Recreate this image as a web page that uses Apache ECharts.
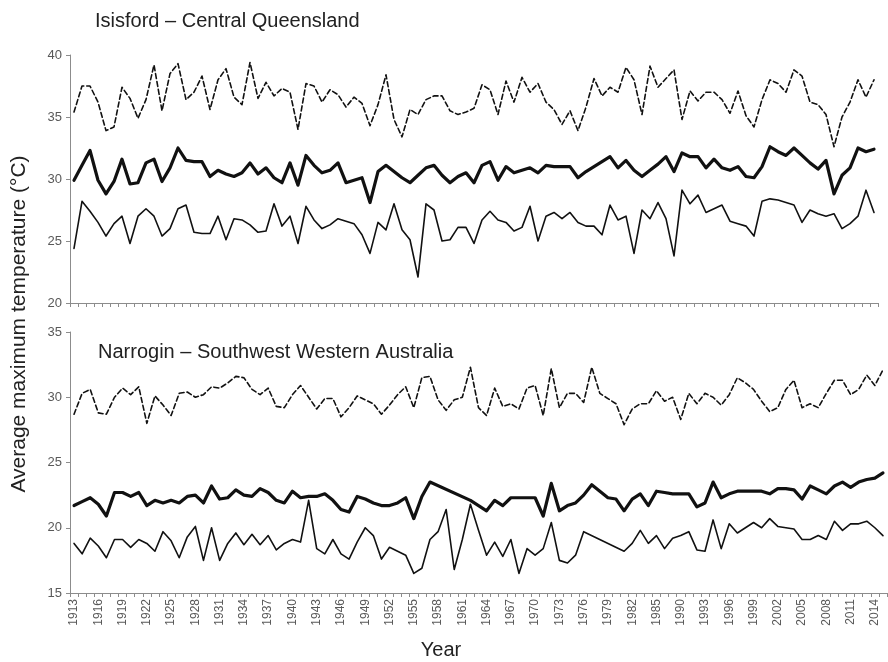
<!DOCTYPE html>
<html>
<head>
<meta charset="utf-8">
<script src="https://cdn.jsdelivr.net/npm/echarts@6/dist/echarts.min.js"></script>
<style>
  html, body { margin: 0; padding: 0; background: #fff; }
  #chart { width: 888px; height: 662px; }
</style>
</head>
<body>
<div id="chart"></div>
<script>
// Year categories (two years between 1985 and 1990 carry no record label)
const years = [
  '1913','1914','1915','1916','1917','1918','1919','1920','1921','1922',
  '1923','1924','1925','1926','1927','1928','1929','1930','1931','1932',
  '1933','1934','1935','1936','1937','1938','1939','1940','1941','1942',
  '1943','1944','1945','1946','1947','1948','1949','1950','1951','1952',
  '1953','1954','1955','1956','1957','1958','1959','1960','1961','1962',
  '1963','1964','1965','1966','1967','1968','1969','1970','1971','1972',
  '1973','1974','1975','1976','1977','1978','1979','1980','1981','1982',
  '1983','1984','1985','1986','1987','1990','1991','1992','1993','1994',
  '1995','1996','1997','1998','1999','2000','2001','2002','2003','2004',
  '2005','2006','2007','2008','2009','2010','2011','2012','2013','2014',
  '2015'
];

// Isisford – Central Queensland (°C)
const isisfordSummer = [
  35.4,37.5,37.5,36.2,33.9,34.2,37.4,36.5,34.9,36.4,
  39.2,35.5,38.5,39.3,36.4,37.0,38.3,35.6,38.0,38.9,
  36.6,36.0,39.4,36.5,37.8,36.7,37.3,37.0,34.0,37.7,
  37.5,36.2,37.2,36.8,35.8,36.6,36.1,34.3,36.0,38.4,
  34.8,33.4,35.6,35.2,36.4,36.7,36.7,35.5,35.2,35.4,
  35.7,37.6,37.2,35.2,37.9,36.2,38.2,37.0,37.7,36.2,
  35.6,34.4,35.5,33.9,35.8,38.1,36.7,37.4,37.0,39.0,
  38.0,35.2,39.1,37.4,38.1,38.8,34.8,37.1,36.3,37.0,
  37.0,36.4,35.3,37.1,35.1,34.2,36.4,38.0,37.7,37.0,
  38.8,38.3,36.2,36.0,35.2,32.6,35.0,36.2,38.0,36.6,
  38.0
];
const isisfordAnnual = [
  29.9,31.1,32.3,29.9,28.8,29.8,31.6,29.6,29.7,31.3,
  31.6,29.8,30.9,32.5,31.5,31.4,31.4,30.2,30.7,30.4,
  30.2,30.5,31.3,30.4,30.9,30.1,29.7,31.3,29.5,31.9,
  31.1,30.5,30.7,31.3,29.7,29.9,30.1,28.1,30.6,31.1,
  30.6,30.1,29.7,30.3,30.9,31.1,30.3,29.7,30.2,30.5,
  29.7,31.1,31.4,29.9,31.0,30.5,30.7,30.9,30.5,31.1,
  31.0,31.0,31.0,30.1,30.6,31.0,31.4,31.8,30.9,31.5,
  30.7,30.2,30.7,31.2,31.8,30.6,32.1,31.8,31.8,30.9,
  31.6,30.9,30.7,31.0,30.2,30.1,31.0,32.6,32.2,31.9,
  32.5,31.9,31.3,30.8,31.5,28.8,30.3,30.9,32.5,32.2,
  32.4
];
const isisfordWinter = [
  24.4,28.2,27.4,26.5,25.4,26.4,27.0,24.8,27.0,27.6,
  27.0,25.4,26.0,27.6,27.9,25.7,25.6,25.6,27.0,25.1,
  26.8,26.7,26.3,25.7,25.8,28.0,26.2,27.0,24.8,27.8,
  26.7,26.0,26.3,26.8,26.6,26.4,25.5,24.0,26.5,25.9,
  28.0,25.9,25.1,22.1,28.0,27.5,25.0,25.1,26.1,26.1,
  24.8,26.7,27.4,26.7,26.5,25.8,26.1,27.8,25.0,27.0,
  27.3,26.8,27.3,26.5,26.2,26.2,25.5,27.9,26.7,27.0,
  24.0,27.5,26.8,28.1,26.8,23.8,29.1,28.0,28.7,27.3,
  27.6,27.9,26.6,26.4,26.2,25.4,28.2,28.4,28.3,28.1,
  27.9,26.5,27.5,27.2,27.0,27.2,26.0,26.4,27.0,29.1,
  27.3
];

// Narrogin – Southwest Western Australia (°C); null = no record
const narroginSummer = [
  28.7,30.3,30.6,28.8,28.7,30.0,30.7,30.2,30.8,28.0,
  30.1,29.4,28.6,30.3,30.4,30.0,30.2,30.8,30.7,31.1,
  31.6,31.5,30.6,30.2,30.7,29.3,29.2,30.2,30.9,30.0,
  29.1,29.9,29.9,28.5,29.2,30.1,29.8,29.5,28.7,29.4,
  30.2,30.8,29.2,31.5,31.6,29.8,29.0,29.8,30.0,32.3,
  29.2,28.6,30.7,29.3,29.5,29.1,30.7,30.9,28.6,32.2,
  29.2,30.3,30.3,29.6,32.3,30.3,29.9,29.5,27.9,29.1,
  29.5,29.5,30.5,29.7,30.0,28.3,30.3,29.5,30.3,30.0,
  29.4,30.2,31.5,31.1,30.6,29.7,28.9,29.2,30.6,31.3,
  29.2,29.5,29.2,30.3,31.3,31.3,30.2,30.6,31.7,30.9,
  32.1
];
const narroginAnnual = [
  21.7,22.0,22.3,21.8,20.9,22.7,22.7,22.4,22.7,21.7,
  22.1,21.9,22.1,21.9,22.4,22.5,21.9,23.2,22.2,22.3,
  22.9,22.5,22.4,23.0,22.7,22.1,21.9,22.8,22.3,22.4,
  22.4,22.6,22.1,21.4,21.2,22.4,22.2,21.9,21.7,21.7,
  21.9,22.3,20.7,22.4,23.5,null,null,null,null,22.1,
  21.7,21.3,22.1,21.7,22.3,22.3,22.3,22.3,20.9,23.4,
  21.3,21.7,21.9,22.5,23.3,22.8,22.3,22.2,21.3,22.2,
  22.6,21.7,22.8,22.7,22.6,22.6,22.6,21.6,21.9,23.5,
  22.3,22.6,22.8,22.8,22.8,22.8,22.6,23.0,23.0,22.9,
  22.2,23.2,22.9,22.6,23.2,23.5,23.1,23.5,23.7,23.8,
  24.2
];
const narroginWinter = [
  18.8,18.0,19.2,18.6,17.7,19.1,19.1,18.5,19.1,18.8,
  18.2,19.7,19.0,17.7,19.3,20.1,17.5,20.0,17.5,18.8,
  19.6,18.7,19.5,18.7,19.4,18.3,18.8,19.1,18.9,22.1,
  18.4,18.0,19.1,18.0,17.6,18.9,20.0,19.4,17.6,18.5,
  18.2,17.9,16.5,16.9,19.1,19.7,21.4,16.8,19.1,21.8,
  19.8,17.9,18.9,17.8,19.1,16.5,18.4,17.9,18.4,20.4,
  17.5,17.3,17.9,19.7,null,null,null,null,18.2,18.8,
  19.8,18.8,19.4,18.4,19.2,19.4,19.7,18.3,18.2,20.6,
  18.4,20.3,19.6,20.0,20.4,20.0,20.7,20.1,20.0,19.9,
  19.1,19.1,19.4,19.1,20.5,19.8,20.3,20.3,20.5,20.0,
  19.4
];

const axisGrey = '#8c8c8c';
const labelGrey = '#595959';
const lineColour = '#111111';
const fontFamily = '"Liberation Sans", Arial, sans-serif';

function xAxisFor(gridIndex, showLabels) {
  return {
    type: 'category',
    gridIndex: gridIndex,
    data: years,
    boundaryGap: true,
    axisLine: { show: true, lineStyle: { color: axisGrey, width: 1 } },
    axisTick: { show: true, interval: 0, length: 4, lineStyle: { color: axisGrey } },
    axisLabel: {
      show: showLabels, interval: 2, rotate: 90, margin: 6,
      fontSize: 12, color: labelGrey, fontFamily: fontFamily
    },
    splitLine: { show: false }
  };
}

function yAxisFor(gridIndex, min, max) {
  return {
    type: 'value',
    gridIndex: gridIndex,
    min: min, max: max, interval: 5,
    axisLine: { show: true, lineStyle: { color: axisGrey, width: 1 } },
    axisTick: { show: true, length: 4, lineStyle: { color: axisGrey } },
    axisLabel: { fontSize: 13, color: labelGrey, margin: 8, fontFamily: fontFamily },
    splitLine: { show: false }
  };
}

function lineSeries(data, axisIndex, style) {
  return {
    type: 'line',
    data: data,
    xAxisIndex: axisIndex,
    yAxisIndex: axisIndex,
    symbol: 'none',
    connectNulls: true,
    lineStyle: Object.assign({ color: lineColour, cap: 'round', join: 'round' }, style),
    silent: true
  };
}

const dashed = { width: 1.6, type: [5, 3] };
const thick = { width: 3.2, type: 'solid' };
const thin = { width: 1.6, type: 'solid' };

const chart = echarts.init(document.getElementById('chart'), null, { renderer: 'canvas' });
chart.setOption({
  animation: false,
  backgroundColor: '#ffffff',
  grid: [
    { left: 70, top: 55, width: 808, height: 248 },
    { left: 70, top: 332, width: 817, height: 261 }
  ],
  xAxis: [xAxisFor(0, false), xAxisFor(1, true)],
  yAxis: [yAxisFor(0, 20, 40), yAxisFor(1, 15, 35)],
  series: [
    lineSeries(isisfordSummer, 0, dashed),
    lineSeries(isisfordAnnual, 0, thick),
    lineSeries(isisfordWinter, 0, thin),
    lineSeries(narroginSummer, 1, dashed),
    lineSeries(narroginAnnual, 1, thick),
    lineSeries(narroginWinter, 1, thin)
  ],
  graphic: [
    {
      type: 'text', left: 95, top: 11,
      style: { text: 'Isisford – Central Queensland', fontSize: 20, fill: '#222', fontFamily: fontFamily }
    },
    {
      type: 'text', left: 98, top: 342,
      style: { text: 'Narrogin – Southwest Western Australia', fontSize: 20, fill: '#222', fontFamily: fontFamily }
    },
    {
      type: 'text', x: 19, y: 324, rotation: Math.PI / 2,
      style: {
        text: 'Average maximum temperature (°C)', fontSize: 21, fill: '#222',
        fontFamily: fontFamily, textAlign: 'center', textVerticalAlign: 'middle'
      }
    },
    {
      type: 'text', x: 441, y: 650,
      style: {
        text: 'Year', fontSize: 20, fill: '#222', fontFamily: fontFamily,
        textAlign: 'center', textVerticalAlign: 'middle'
      }
    }
  ]
});
</script>
</body>
</html>
